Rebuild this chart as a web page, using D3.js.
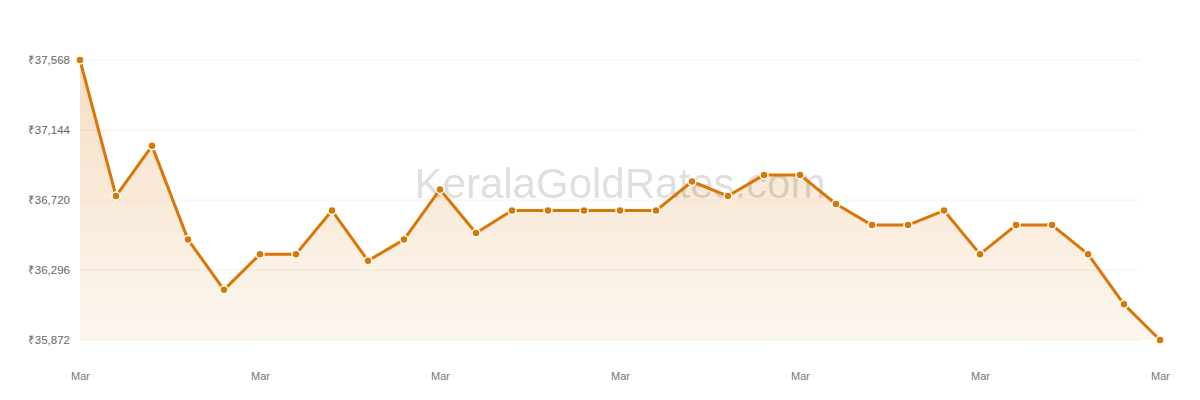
<!DOCTYPE html>
<html>
<head>
<meta charset="utf-8">
<script src="https://cdn.jsdelivr.net/npm/d3@7"></script>
<style>
  body { margin: 0; background: #fff; }
  #chart { width: 1200px; height: 400px; }
  text { font-family: "Liberation Sans", Arial, sans-serif; }
</style>
</head>
<body>
<div id="chart"></div>
<script>
// daily rate, March 1..31 (8 gram)
const days = d3.range(1, 32).map(d => new Date(2021, 2, d));
const rates = [
  37568, 36744, 37048, 36480, 36176, 36392, 36392, 36656, 36352, 36480,
  36784, 36520, 36656, 36656, 36656, 36656, 36656, 36832, 36744, 36872,
  36872, 36696, 36568, 36568, 36656, 36392, 36568, 36568, 36392, 36088,
  35872
];
const yTicks = [35872, 36296, 36720, 37144, 37568];
const tickDays = [1, 6, 11, 16, 21, 26, 31].map(d => new Date(2021, 2, d));

const width = 1200, height = 400;
const color = '#d97706';

const svg = d3.select('#chart').append('svg')
  .attr('width', width)
  .attr('height', height);

const x = d3.scaleTime().domain([days[0], days[days.length - 1]]).range([80, 1160]);
const y = d3.scaleLinear().domain([35872, 37568]).range([340, 60]);

const defs = svg.append('defs');
const grad = defs.append('linearGradient')
  .attr('id', 'fill')
  .attr('gradientUnits', 'userSpaceOnUse')
  .attr('x1', 0).attr('x2', 0)
  .attr('y1', y(37568)).attr('y2', y(35872));
grad.append('stop').attr('offset', 0).attr('stop-color', color).attr('stop-opacity', 0.24);
grad.append('stop').attr('offset', 1).attr('stop-color', color).attr('stop-opacity', 0.06);

// grid
svg.append('g')
  .selectAll('line')
  .data(yTicks)
  .enter()
  .append('line')
  .attr('x1', 80).attr('x2', 1140)
  .attr('y1', d => y(d)).attr('y2', d => y(d))
  .attr('stroke', '#f2f2f2')
  .attr('stroke-width', 1);

// y axis
const yAxis = svg.append('g')
  .attr('transform', 'translate(70,0)')
  .call(d3.axisLeft(y).tickValues(yTicks).tickSize(0).tickPadding(0)
    .tickFormat(d => '₹' + d3.format(',')(d)));
yAxis.select('.domain').remove();
yAxis.selectAll('text').attr('fill', '#666').attr('font-size', '11.5px');

// x axis
const xAxis = svg.append('g')
  .attr('transform', 'translate(0,372)')
  .call(d3.axisBottom(x).tickValues(tickDays).tickSize(0).tickPadding(0)
    .tickFormat(d3.timeFormat('%b')));
xAxis.select('.domain').remove();
xAxis.selectAll('text').attr('fill', '#777').attr('font-size', '11px');

const data = days.map((d, i) => ({ date: d, rate: rates[i] }));

svg.append('path')
  .datum(data)
  .attr('fill', 'url(#fill)')
  .attr('d', d3.area().x(d => x(d.date)).y0(y(35872)).y1(d => y(d.rate)));

// watermark
svg.append('text')
  .attr('x', 620)
  .attr('y', 198)
  .attr('text-anchor', 'middle')
  .attr('font-size', '42px')
  .attr('fill', '#000')
  .attr('fill-opacity', 0.14)
  .text('KeralaGoldRates.com');

svg.append('path')
  .datum(data)
  .attr('fill', 'none')
  .attr('stroke', color)
  .attr('stroke-width', 3)
  .attr('stroke-linejoin', 'round')
  .attr('d', d3.line().x(d => x(d.date)).y(d => y(d.rate)));

svg.append('g')
  .selectAll('circle')
  .data(data)
  .enter()
  .append('circle')
  .attr('cx', d => x(d.date))
  .attr('cy', d => y(d.rate))
  .attr('r', 4)
  .attr('fill', color)
  .attr('stroke', '#fff')
  .attr('stroke-width', 1.5);
</script>
</body>
</html>
